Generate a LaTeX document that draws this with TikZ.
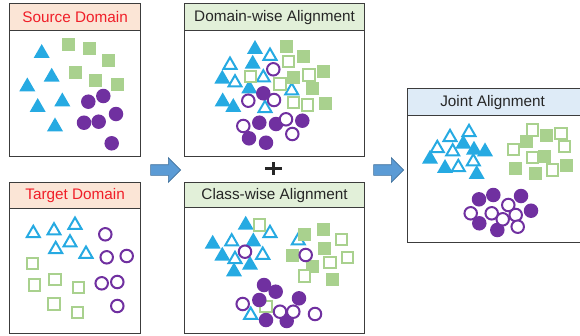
\documentclass[tikz,border=0pt]{standalone}
\usepackage{fontspec}
\setmainfont{Liberation Sans}
\usetikzlibrary{shapes.geometric,shapes.arrows}
\definecolor{cblue}{RGB}{38,170,226}
\definecolor{cgreen}{RGB}{169,209,142}
\definecolor{cpurple}{RGB}{112,48,160}
\definecolor{pinkbar}{RGB}{251,229,214}
\definecolor{greenbar}{RGB}{226,240,217}
\definecolor{bluebar}{RGB}{222,235,247}
\definecolor{redtxt}{RGB}{240,30,40}
\definecolor{darktxt}{RGB}{38,38,38}
\definecolor{bordc}{RGB}{60,60,60}
\definecolor{arrowf}{RGB}{91,155,213}
\definecolor{arrowd}{RGB}{65,113,156}
\begin{document}
\begin{tikzpicture}[x=1pt,y=-1pt,
  panel/.style={draw=bordc, line width=1.2pt, inner sep=0pt, anchor=north west},
  titlebar/.style={draw=bordc, line width=1.2pt, inner sep=0pt, anchor=north west,
    font=\fontsize{15.3}{18}\selectfont},
  ftri/.style={regular polygon, regular polygon sides=3, fill=cblue, minimum size=18.5pt, inner sep=0pt},
  otri/.style={regular polygon, regular polygon sides=3, draw=cblue, fill=white, line width=2pt, minimum size=15pt, inner sep=0pt},
  fsq/.style={rectangle, fill=cgreen, minimum size=13pt, inner sep=0pt},
  osq/.style={rectangle, draw=cgreen, fill=white, line width=2pt, minimum size=11.5pt, inner sep=0pt},
  fci/.style={circle, fill=cpurple, minimum size=14.5pt, inner sep=0pt},
  oci/.style={circle, draw=cpurple, fill=white, line width=2pt, minimum size=12.5pt, inner sep=0pt},
  barrow/.style={single arrow, fill=arrowf, draw=arrowd, line width=0.6pt, minimum height=30pt,
    minimum width=24pt, inner sep=5pt, single arrow head extend=7pt},
  plusst/.style={draw=darktxt, line width=3.3pt}
]
\useasboundingbox (0,0) rectangle (580,335);

% ---------- panels ----------
\node[panel, minimum width=131pt, minimum height=153pt] (src) at (9,3) {};
\node[titlebar, fill=pinkbar, minimum width=131pt, minimum height=27pt, text=redtxt] (srcT) at (9,3) {Source Domain};
\node[panel, minimum width=131pt, minimum height=151pt] (tgt) at (9,182) {};
\node[titlebar, fill=pinkbar, minimum width=131pt, minimum height=26pt, text=redtxt] (tgtT) at (9,182) {Target Domain};
\node[panel, minimum width=180pt, minimum height=153pt] (dom) at (184,3) {};
\node[titlebar, fill=greenbar, minimum width=180pt, minimum height=27pt, text=darktxt] (domT) at (184,3) {Domain-wise Alignment};
\node[panel, minimum width=180pt, minimum height=151pt] (cls) at (184,182) {};
\node[titlebar, fill=greenbar, minimum width=180pt, minimum height=25pt, text=darktxt] (clsT) at (184,182) {Class-wise Alignment};
\node[panel, minimum width=178pt, minimum height=154pt] (jnt) at (407,88) {};
\node[titlebar, fill=bluebar, minimum width=178pt, minimum height=27pt, text=darktxt] (jntT) at (407,88) {\hspace*{-8pt}Joint Alignment};

% ---------- arrows and plus ----------
\node[barrow] (arr1) at (163,170) {};
\node[barrow] (arr2) at (386,170) {};
\coordinate (plus) at (273.3,168.3);
\draw[plusst] ([xshift=-8.5pt]plus) -- ([xshift=8.5pt]plus);
\draw[plusst] ([yshift=-6.5pt]plus) -- ([yshift=6.5pt]plus);

% ---------- Source Domain ----------
\foreach \p [count=\i] in {(41.7,53.3),(51.7,77),(27.3,86.7),(62.3,101.7),(37.7,107.3),(55,126.7)}
  \node[ftri] (sft\i) at \p {};
\foreach \p [count=\i] in {(68.3,44),(89,48.3),(108.3,60),(75.3,72.7),(95.7,80.7),(117.3,84)}
  \node[fsq] (sfs\i) at \p {};
\foreach \p [count=\i] in {(103.3,96),(88.3,101.7),(116,114),(84,122.7),(98.7,121.7),(111.7,143.3)}
  \node[fci] (sfc\i) at \p {};

% ---------- Target Domain ----------
\foreach \p [count=\i] in {(33.3,233.3),(54,230.7),(75,225),(55.7,249.3),(70,242.7),(86,254)}
  \node[otri] (tot\i) at \p {};
\foreach \p [count=\i] in {(32.3,263.3),(34.3,285),(55,279.3),(78.3,287.3),(54,304),(77.3,312.7)}
  \node[osq] (tos\i) at \p {};
\foreach \p [count=\i] in {(105.3,234.3),(106.7,257.3),(126.7,256),(101.7,283.3),(117.3,282),(117.3,306)}
  \node[oci] (toc\i) at \p {};

% ---------- Domain-wise Alignment ----------
\foreach \p [count=\i] in {(255,49.3),(252.7,64),(222.3,79),(249.3,88.7),(222.7,101.7),(233.3,107.3)}
  \node[ftri] (dft\i) at \p {};
\foreach \p [count=\i] in {(270,56),(230,65),(235,82.7),(263.3,77.7),(291.7,90.7),(265,108.3)}
  \node[otri] (dot\i) at \p {};
\foreach \p [count=\i] in {(286.7,46.7),(303.3,56.7),(293.3,77.7),(323.3,71.7),(312.7,88.3),(325.7,103.3)}
  \node[fsq] (dfs\i) at \p {};
\foreach \p [count=\i] in {(288.3,61.7),(250.7,76.7),(280,84),(309,75),(293.3,102.7),(307.3,105)}
  \node[osq] (dos\i) at \p {};
\foreach \p [count=\i] in {(263.3,93.3),(259.3,122.7),(276,124),(302.3,120.7),(249,138.3),(266,142.7)}
  \node[fci] (dfc\i) at \p {};
\foreach \p [count=\i] in {(273.3,69.3),(274,100),(248.3,100.7),(243.3,126),(286,119.3),(292.3,134)}
  \node[oci] (doc\i) at \p {};

% ---------- Class-wise Alignment ----------
\foreach \p [count=\i] in {(245.7,225),(212.7,244),(253.3,241.7),(222.3,256),(250,265),(234,271.7)}
  \node[ftri] (cft\i) at \p {};
\foreach \p [count=\i] in {(270,233.3),(231.7,241.7),(262.7,255),(235,259.3),(298.3,240.7),(250.7,315)}
  \node[otri] (cot\i) at \p {};
\foreach \p [count=\i] in {(304,234),(323.3,229.3),(324,248.3),(292.7,255.7),(312.3,266),(332.7,279.3)}
  \node[fsq] (cfs\i) at \p {};
\foreach \p [count=\i] in {(259.3,225),(341.7,239.3),(347.3,257.3),(330,262.7),(304.3,276),(266,306.7)}
  \node[osq] (cos\i) at \p {};
\foreach \p [count=\i] in {(264,285),(275.7,291.7),(259.3,300),(299,298.3),(266,320),(286.7,321)}
  \node[fci] (cfc\i) at \p {};
\foreach \p [count=\i] in {(245,251.7),(305.7,255),(242.7,304),(280,311.7),(293.3,311.7),(315,314)}
  \node[oci] (coc\i) at \p {};

% ---------- Joint Alignment ----------
\foreach \p [count=\i] in {(430,159),(463.3,144),(474,150),(485,151.7),(445,168.3),(476.7,174.3)}
  \node[ftri] (jft\i) at \p {};
\foreach \p [count=\i] in {(450,137.3),(469,132.3),(437.3,148.3),(452.7,151.7),(473.3,161.7),(458.3,167.3)}
  \node[otri] (jot\i) at \p {};
\foreach \p [count=\i] in {(546.7,135),(526,141.7),(544,156),(566.7,165),(515,168.3),(535,173.3)}
  \node[fsq] (jfs\i) at \p {};
\foreach \p [count=\i] in {(532.3,130),(561,133.3),(513.3,149.3),(564.3,146.7),(532.3,157.3),(552.3,170)}
  \node[osq] (jos\i) at \p {};
\foreach \p [count=\i] in {(493.3,195),(479,199.3),(521,196),(531,210.7),(479.3,223.3),(497.3,230)}
  \node[fci] (jfc\i) at \p {};
\foreach \p [count=\i] in {(508.3,205),(470.7,213.3),(491.7,213.3),(502.7,219.3),(515.7,215),(517.7,226.7)}
  \node[oci] (joc\i) at \p {};
\end{tikzpicture}
\end{document}
